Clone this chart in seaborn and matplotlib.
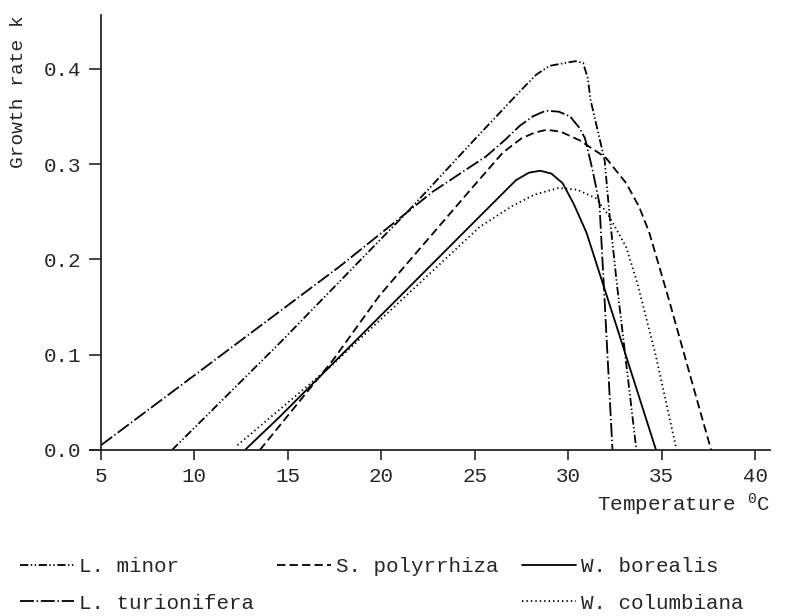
import numpy as np
import pandas as pd
import seaborn as sns
import matplotlib.pyplot as plt
from matplotlib.lines import Line2D

# values (temperature in degC, growth rate k)
minor_t = [8.8, 14.6, 21.5, 25.0, 27.5, 28.3, 29.0, 29.8, 30.4, 30.8, 31.05, 31.2, 31.95, 32.2, 32.6, 33.65]
minor_k = [0.0, 0.113, 0.252, 0.326, 0.378, 0.394, 0.403, 0.406, 0.408, 0.406, 0.39, 0.367, 0.304, 0.249, 0.175, 0.0]

turio_t = [5.0, 14.6, 17.8, 22.75, 25.6, 26.6, 27.4, 28.1, 28.8, 29.5, 30.1, 30.6, 30.9, 31.3, 31.67, 31.94, 32.37]
turio_k = [0.005, 0.146, 0.193, 0.271, 0.308, 0.325, 0.340, 0.350, 0.356, 0.355, 0.350, 0.338, 0.327, 0.294, 0.259, 0.16, 0.0]

polyr_t = [13.5, 17.4, 19.9, 24.9, 26.5, 27.5, 28.2, 28.84, 29.6, 30.6, 32.0, 33.1, 33.8, 34.34, 34.88, 35.4, 36.1, 37.0, 37.65]
polyr_k = [0.0, 0.094, 0.162, 0.276, 0.312, 0.327, 0.333, 0.336, 0.334, 0.325, 0.307, 0.28, 0.255, 0.228, 0.192, 0.157, 0.108, 0.045, 0.0]

borea_t = [12.7, 14.57, 25.26, 27.2, 27.9, 28.5, 29.1, 29.7, 30.3, 30.98, 32.7, 34.7]
borea_k = [0.0, 0.035, 0.245, 0.283, 0.291, 0.293, 0.290, 0.280, 0.258, 0.228, 0.123, 0.0]

colum_t = [12.3, 17.24, 25.26, 27.0, 28.2, 29.5, 30.5, 31.5, 32.2, 33.1, 33.7, 34.7, 35.8]
colum_k = [0.005, 0.087, 0.234, 0.256, 0.268, 0.275, 0.273, 0.264, 0.245, 0.213, 0.175, 0.098, 0.0]

species = ["L. minor", "L. turionifera", "S. polyrrhiza", "W. borealis", "W. columbiana"]
series = [(minor_t, minor_k), (turio_t, turio_k), (polyr_t, polyr_k),
          (borea_t, borea_k), (colum_t, colum_k)]
styles = {
    "L. minor": (0, (6, 1.8, 1, 1.8, 1, 1.8)),
    "L. turionifera": (0, (10, 2, 1, 2)),
    "S. polyrrhiza": (0, (6, 3)),
    "W. borealis": "-",
    "W. columbiana": (0, (1, 2.2)),
}

sns.set_style("ticks")
plt.rcParams["font.family"] = ["Liberation Mono", "DejaVu Sans Mono"]
plt.rcParams["mathtext.fontset"] = "custom"
plt.rcParams["mathtext.rm"] = "Liberation Mono"
plt.rcParams["mathtext.it"] = "Liberation Mono"
plt.rcParams["lines.scale_dashes"] = False

fig = plt.figure(figsize=(7.9, 6.16), dpi=100)
ax = fig.add_axes([0.1137, 0.2695, 0.861, 0.7055])

for name, (t, k) in zip(species, series):
    df = pd.DataFrame({"t": t, "k": k})
    sns.lineplot(data=df, x="t", y="k", ax=ax, color="black", linewidth=1.3,
                 linestyle=styles[name], sort=False, estimator=None)

ax.set_xlim(4.4, 40.8)
ax.set_ylim(0, 0.456)
ax.spines["left"].set_position(("data", 5))
ax.spines["top"].set_visible(False)
ax.spines["right"].set_visible(False)
for s in ["left", "bottom"]:
    ax.spines[s].set_linewidth(1.3)

ax.set_xticks([5, 10, 15, 20, 25, 30, 35, 40])
ax.set_yticks([0.0, 0.1, 0.2, 0.3, 0.4])
ax.set_yticklabels(["0.0", "0.1", "0.2", "0.3", "0.4"])
ax.tick_params(axis="x", length=7, width=1.2, labelsize=15, pad=5)
ax.tick_params(axis="y", length=9, width=1.2, labelsize=15, pad=5)

ax.set_xlabel("Temperature $^{0}$C", fontsize=15, loc="right", labelpad=4)
ax.set_ylabel("Growth rate k", fontsize=14, loc="top")
ax.yaxis.set_label_coords(-0.092, 1.0)

handles = []
labels = []
order = ["L. minor", "L. turionifera", "S. polyrrhiza", None, "W. borealis", "W. columbiana"]
for name in order:
    if name is None:
        handles.append(Line2D([], [], linestyle="none"))
        labels.append("")
    else:
        handles.append(Line2D([], [], color="black", linewidth=1.3, linestyle=styles[name]))
        labels.append(name)

fig.legend(handles, labels, ncol=3, loc="upper left", bbox_to_anchor=(0.025, 0.096),
           frameon=False, fontsize=15, handlelength=2.6, handletextpad=0.25,
           columnspacing=1.1, labelspacing=0.85, borderaxespad=0, borderpad=0)

fig.savefig("out.png", dpi=100)
